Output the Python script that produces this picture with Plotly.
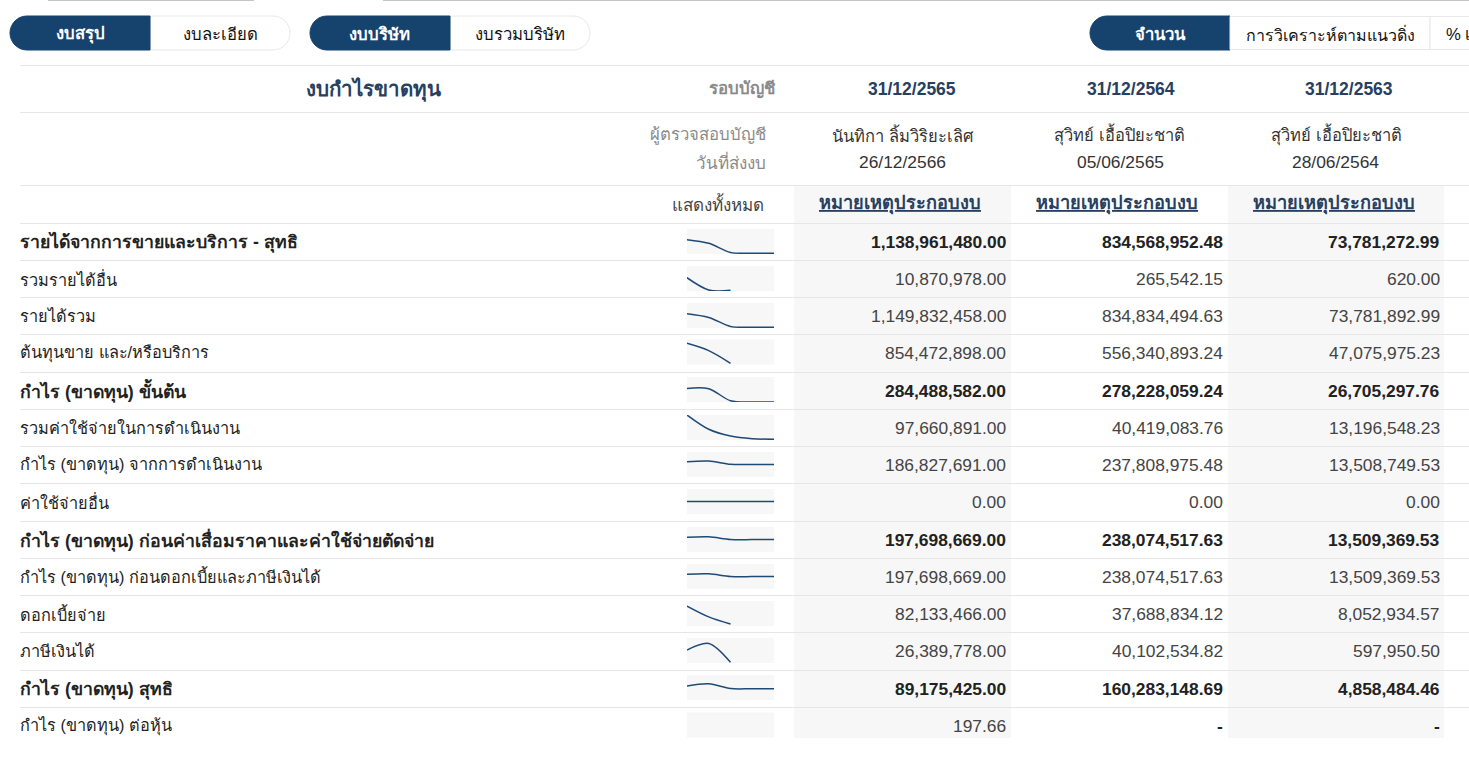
"""Income statement table with a small trend line per row, Plotly only."""

import plotly.graph_objects as go

W, H = 1469, 761
FONT = "Liberation Sans, Arial, Noto Sans, sans-serif"
NAVY = "#16426e"
TITLE_BLUE = "#27405f"
LINE_BLUE = "#1f4a76"
GRID = "#e6e6e6"
BAND = "#f7f7f7"

# ------------------------------------------------------------
# Data
# ------------------------------------------------------------
row_labels = [
    "รายได้จากการขายและบริการ - สุทธิ",
    "รวมรายได้อื่น",
    "รายได้รวม",
    "ต้นทุนขาย และ/หรือบริการ",
    "กำไร (ขาดทุน) ขั้นต้น",
    "รวมค่าใช้จ่ายในการดำเนินงาน",
    "กำไร (ขาดทุน) จากการดำเนินงาน",
    "ค่าใช้จ่ายอื่น",
    "กำไร (ขาดทุน) ก่อนค่าเสื่อมราคาและค่าใช้จ่ายตัดจ่าย",
    "กำไร (ขาดทุน) ก่อนดอกเบี้ยและภาษีเงินได้",
    "ดอกเบี้ยจ่าย",
    "ภาษีเงินได้",
    "กำไร (ขาดทุน) สุทธิ",
    "กำไร (ขาดทุน) ต่อหุ้น",
]
bold_rows = [0, 4, 8, 12]

values_2565 = [
    1138961480.00, 10870978.00, 1149832458.00, 854472898.00, 284488582.00,
    97660891.00, 186827691.00, 0.00, 197698669.00, 197698669.00,
    82133466.00, 26389778.00, 89175425.00, 197.66,
]
values_2564 = [
    834568952.48, 265542.15, 834834494.63, 556340893.24, 278228059.24,
    40419083.76, 237808975.48, 0.00, 238074517.63, 238074517.63,
    37688834.12, 40102534.82, 160283148.69, None,
]
values_2563 = [
    73781272.99, 620.00, 73781892.99, 47075975.23, 26705297.76,
    13196548.23, 13508749.53, 0.00, 13509369.53, 13509369.53,
    8052934.57, 597950.50, 4858484.46, None,
]

# older years only show up in the trend lines
older_years = [
    [0, 0], [], [0, 0], [], [0, 0],
    [2500000, 0], [0, 0], [0, 0], [0, 0], [0, 0],
    [], [], [0, 0], [],
]

# y axis limits of each trend line
spark_low = [-60e6, -0.6e6, -60e6, 0, 0, -2.8e6, -860e6, -1, -1066e6, -1066e6, 0, -0.8e6, -373e6, 0]
spark_high = [2035e6, 21e6, 2055e6, 1007e6, 522e6, 97.7e6, 865e6, 1, 1084e6, 1084e6, 103e6, 51.6e6, 452e6, 1]

year_labels = ["31/12/2565", "31/12/2564", "31/12/2563"]
auditors = ["นันทิกา ลิ้มวิริยะเลิศ", "สุวิทย์ เอื้อปิยะชาติ", "สุวิทย์ เอื้อปิยะชาติ"]
submit_dates = ["26/12/2566", "05/06/2565", "28/06/2564"]

# ------------------------------------------------------------
# Layout constants (pixels)
# ------------------------------------------------------------
grid_ys = [65, 112, 185, 223, 260, 297, 334, 372, 409, 446, 483, 521, 558, 595, 632, 670, 707]
row_ys = [242, 279, 316, 353, 391, 428, 465, 502, 540, 577, 614, 651, 689, 726]
value_right = [1006, 1223, 1440]
spark_bottom = [254, 291, 328, 364.5, 402, 440, 477, 514, 552, 589, 626, 663, 700, 737.5]


def px(x):
    return x / W


def py(y):
    return 1 - y / H


def label(x, y, text, size=16, color="#333333", anchor="left"):
    return dict(
        x=px(x), y=py(y), xref="paper", yref="paper", text=text, showarrow=False,
        xanchor=anchor, yanchor="middle", align=anchor, borderpad=0, borderwidth=0,
        font=dict(family=FONT, size=size, color=color),
    )


def rect(x0, y0, x1, y1, fill, line=None):
    return dict(
        type="rect", xref="paper", yref="paper", layer="below",
        x0=px(x0), x1=px(x1), y0=py(y0), y1=py(y1), fillcolor=fill,
        line=dict(color=line or fill, width=1 if line else 0),
    )


def pill(x0, x1, y0, y1, fill, line, left=True, right=True):
    """Rounded button segment as an SVG path in paper coordinates."""
    r = (y1 - y0) / 2
    kx, ky = r * 0.55, r * 0.55
    p = [f"M{px(x0 + r if left else x0)},{py(y0)}", f"L{px(x1 - r if right else x1)},{py(y0)}"]
    if right:
        p.append(f"C{px(x1 - r + kx)},{py(y0)} {px(x1)},{py(y0 + r - ky)} {px(x1)},{py(y0 + r)}")
        p.append(f"C{px(x1)},{py(y1 - r + ky)} {px(x1 - r + kx)},{py(y1)} {px(x1 - r)},{py(y1)}")
    else:
        p.append(f"L{px(x1)},{py(y1)}")
    p.append(f"L{px(x0 + r if left else x0)},{py(y1)}")
    if left:
        p.append(f"C{px(x0 + r - kx)},{py(y1)} {px(x0)},{py(y1 - r + ky)} {px(x0)},{py(y0 + r)}")
        p.append(f"C{px(x0)},{py(y0 + r - ky)} {px(x0 + r - kx)},{py(y0)} {px(x0 + r)},{py(y0)}")
    p.append("Z")
    return dict(
        type="path", path=" ".join(p), xref="paper", yref="paper", layer="below",
        fillcolor=fill, line=dict(color=line, width=1),
    )


def fmt(v):
    return "-" if v is None else f"{v:,.2f}"


# ------------------------------------------------------------
# Figure
# ------------------------------------------------------------
fig = go.Figure()
shapes, annotations = [], []
axes = {}

# thin rule along the very top of the page
shapes.append(dict(type="line", xref="paper", yref="paper", x0=px(48), x1=px(254),
                   y0=py(0.5), y1=py(0.5), line=dict(color="#c4c4c4", width=1)))
shapes.append(dict(type="line", xref="paper", yref="paper", x0=px(383), x1=1,
                   y0=py(0.5), y1=py(0.5), line=dict(color="#c4c4c4", width=1)))

# buttons
shapes.append(pill(150, 290, 16, 50, "#ffffff", "#e8e8e8", left=False))
shapes.append(pill(10, 150, 16, 50, NAVY, NAVY, right=False))
shapes.append(pill(450, 590, 16, 50, "#ffffff", "#e8e8e8", left=False))
shapes.append(pill(310, 450, 16, 50, NAVY, NAVY, right=False))
shapes.append(pill(1090, 1230, 16, 50, NAVY, NAVY, right=False))
shapes.append(rect(1230, 16.5, 1430, 49.5, "#ffffff", "#e8e8e8"))
shapes.append(rect(1430, 16.5, 1480, 49.5, "#ffffff", "#e8e8e8"))
for x, text, color, size in [
    (80, "<b>งบสรุป</b>", "#ffffff", 16.7), (220, "งบละเอียด", "#111111", 16.7),
    (380, "<b>งบบริษัท</b>", "#ffffff", 16.7), (520, "งบรวมบริษัท", "#111111", 16.7),
    (1160, "<b>จำนวน</b>", "#ffffff", 16.7), (1330.5, "การวิเคราะห์ตามแนวดิ่ง", "#111111", 16),
]:
    annotations.append(label(x, 34, text, size=size, color=color, anchor="center"))
annotations.append(label(1446, 34, "% เ", size=16.7, color="#111111"))

# shaded value columns and row rules
shapes.append(rect(794, 186, 1011, 738, BAND))
shapes.append(rect(1228, 186, 1444, 738, BAND))
for y in grid_ys:
    shapes.append(dict(type="line", xref="paper", yref="paper", x0=px(20), x1=1,
                       y0=py(y + 0.5), y1=py(y + 0.5), line=dict(color=GRID, width=1)))

# header rows
annotations.append(label(373.5, 89, "<b>งบกำไรขาดทุน</b>", size=20.5, color=TITLE_BLUE, anchor="center"))
annotations.append(label(775, 89, "<b>รอบบัญชี</b>", size=16.8, color="#8a8a8a", anchor="right"))
annotations.append(label(766, 135, "ผู้ตรวจสอบบัญชี", size=16.7, color="#8a8a8a", anchor="right"))
annotations.append(label(766, 162, "วันที่ส่งงบ", size=17, color="#8a8a8a", anchor="right"))
annotations.append(label(764, 204, "แสดงทั้งหมด", size=17, color="#444444", anchor="right"))
for i, cx in enumerate([912, 1131, 1349]):
    annotations.append(label(cx, 89, f"<b>{year_labels[i]}</b>", size=17.5, color=TITLE_BLUE, anchor="center"))
for i, cx in enumerate([903, 1119, 1336]):
    annotations.append(label(cx, 135, auditors[i], size=16.5, color="#333333", anchor="center"))
for i, cx in enumerate([902.5, 1120, 1335]):
    annotations.append(label(cx, 162, submit_dates[i], size=17.4, color="#333333", anchor="center"))
for cx in [900, 1117, 1333.5]:
    annotations.append(label(cx, 204, "<b><u>หมายเหตุประกอบงบ</u></b>", size=18.2, color=TITLE_BLUE, anchor="center"))

# table body
for i, name in enumerate(row_labels):
    bold = i in bold_rows
    wrap = (lambda s: f"<b>{s}</b>") if bold else (lambda s: s)
    annotations.append(label(20, row_ys[i], wrap(name), size=17.7 if bold else 16.3, color="#222222"))
    for right, column in zip(value_right, (values_2565, values_2564, values_2563)):
        text = wrap(fmt(column[i])) if column[i] is not None else "<b>-</b>"
        annotations.append(label(right, row_ys[i], text, size=17.4,
                                 color="#222222" if bold or column[i] is None else "#444444", anchor="right"))

    # trend line on its own small pair of axes
    n = i + 2
    top, bottom = spark_bottom[i] - 25, spark_bottom[i]
    shapes.append(rect(687, top, 774, bottom, BAND))
    axes[f"xaxis{n}"] = dict(domain=[px(687), px(774)], range=[0, 4], visible=False,
                             fixedrange=True, anchor=f"y{n}")
    axes[f"yaxis{n}"] = dict(domain=[py(bottom), py(top)], range=[spark_low[i], spark_high[i]],
                             visible=False, fixedrange=True, anchor=f"x{n}")
    series = [v for v in (values_2565[i], values_2564[i], values_2563[i]) if v is not None] + older_years[i]
    if i == len(row_labels) - 1:
        continue  # per share row has no usable trend
    fig.add_trace(go.Scatter(
        x=list(range(len(series))), y=series, mode="lines",
        line=dict(color=LINE_BLUE, width=1.5, shape="spline", smoothing=0.9),
        xaxis=f"x{n}", yaxis=f"y{n}", showlegend=False, cliponaxis=False, hoverinfo="skip",
    ))

fig.update_layout(
    width=W, height=H, margin=dict(l=0, r=0, t=0, b=0),
    paper_bgcolor="#ffffff", plot_bgcolor="rgba(0,0,0,0)",
    showlegend=False, shapes=shapes, annotations=annotations,
    xaxis=dict(visible=False), yaxis=dict(visible=False),
    **axes,
)

fig.write_html(
    "out.html",
    config={"displayModeBar": False},
    post_script="document.body.style.margin='0';document.body.style.overflow='hidden';",
)
